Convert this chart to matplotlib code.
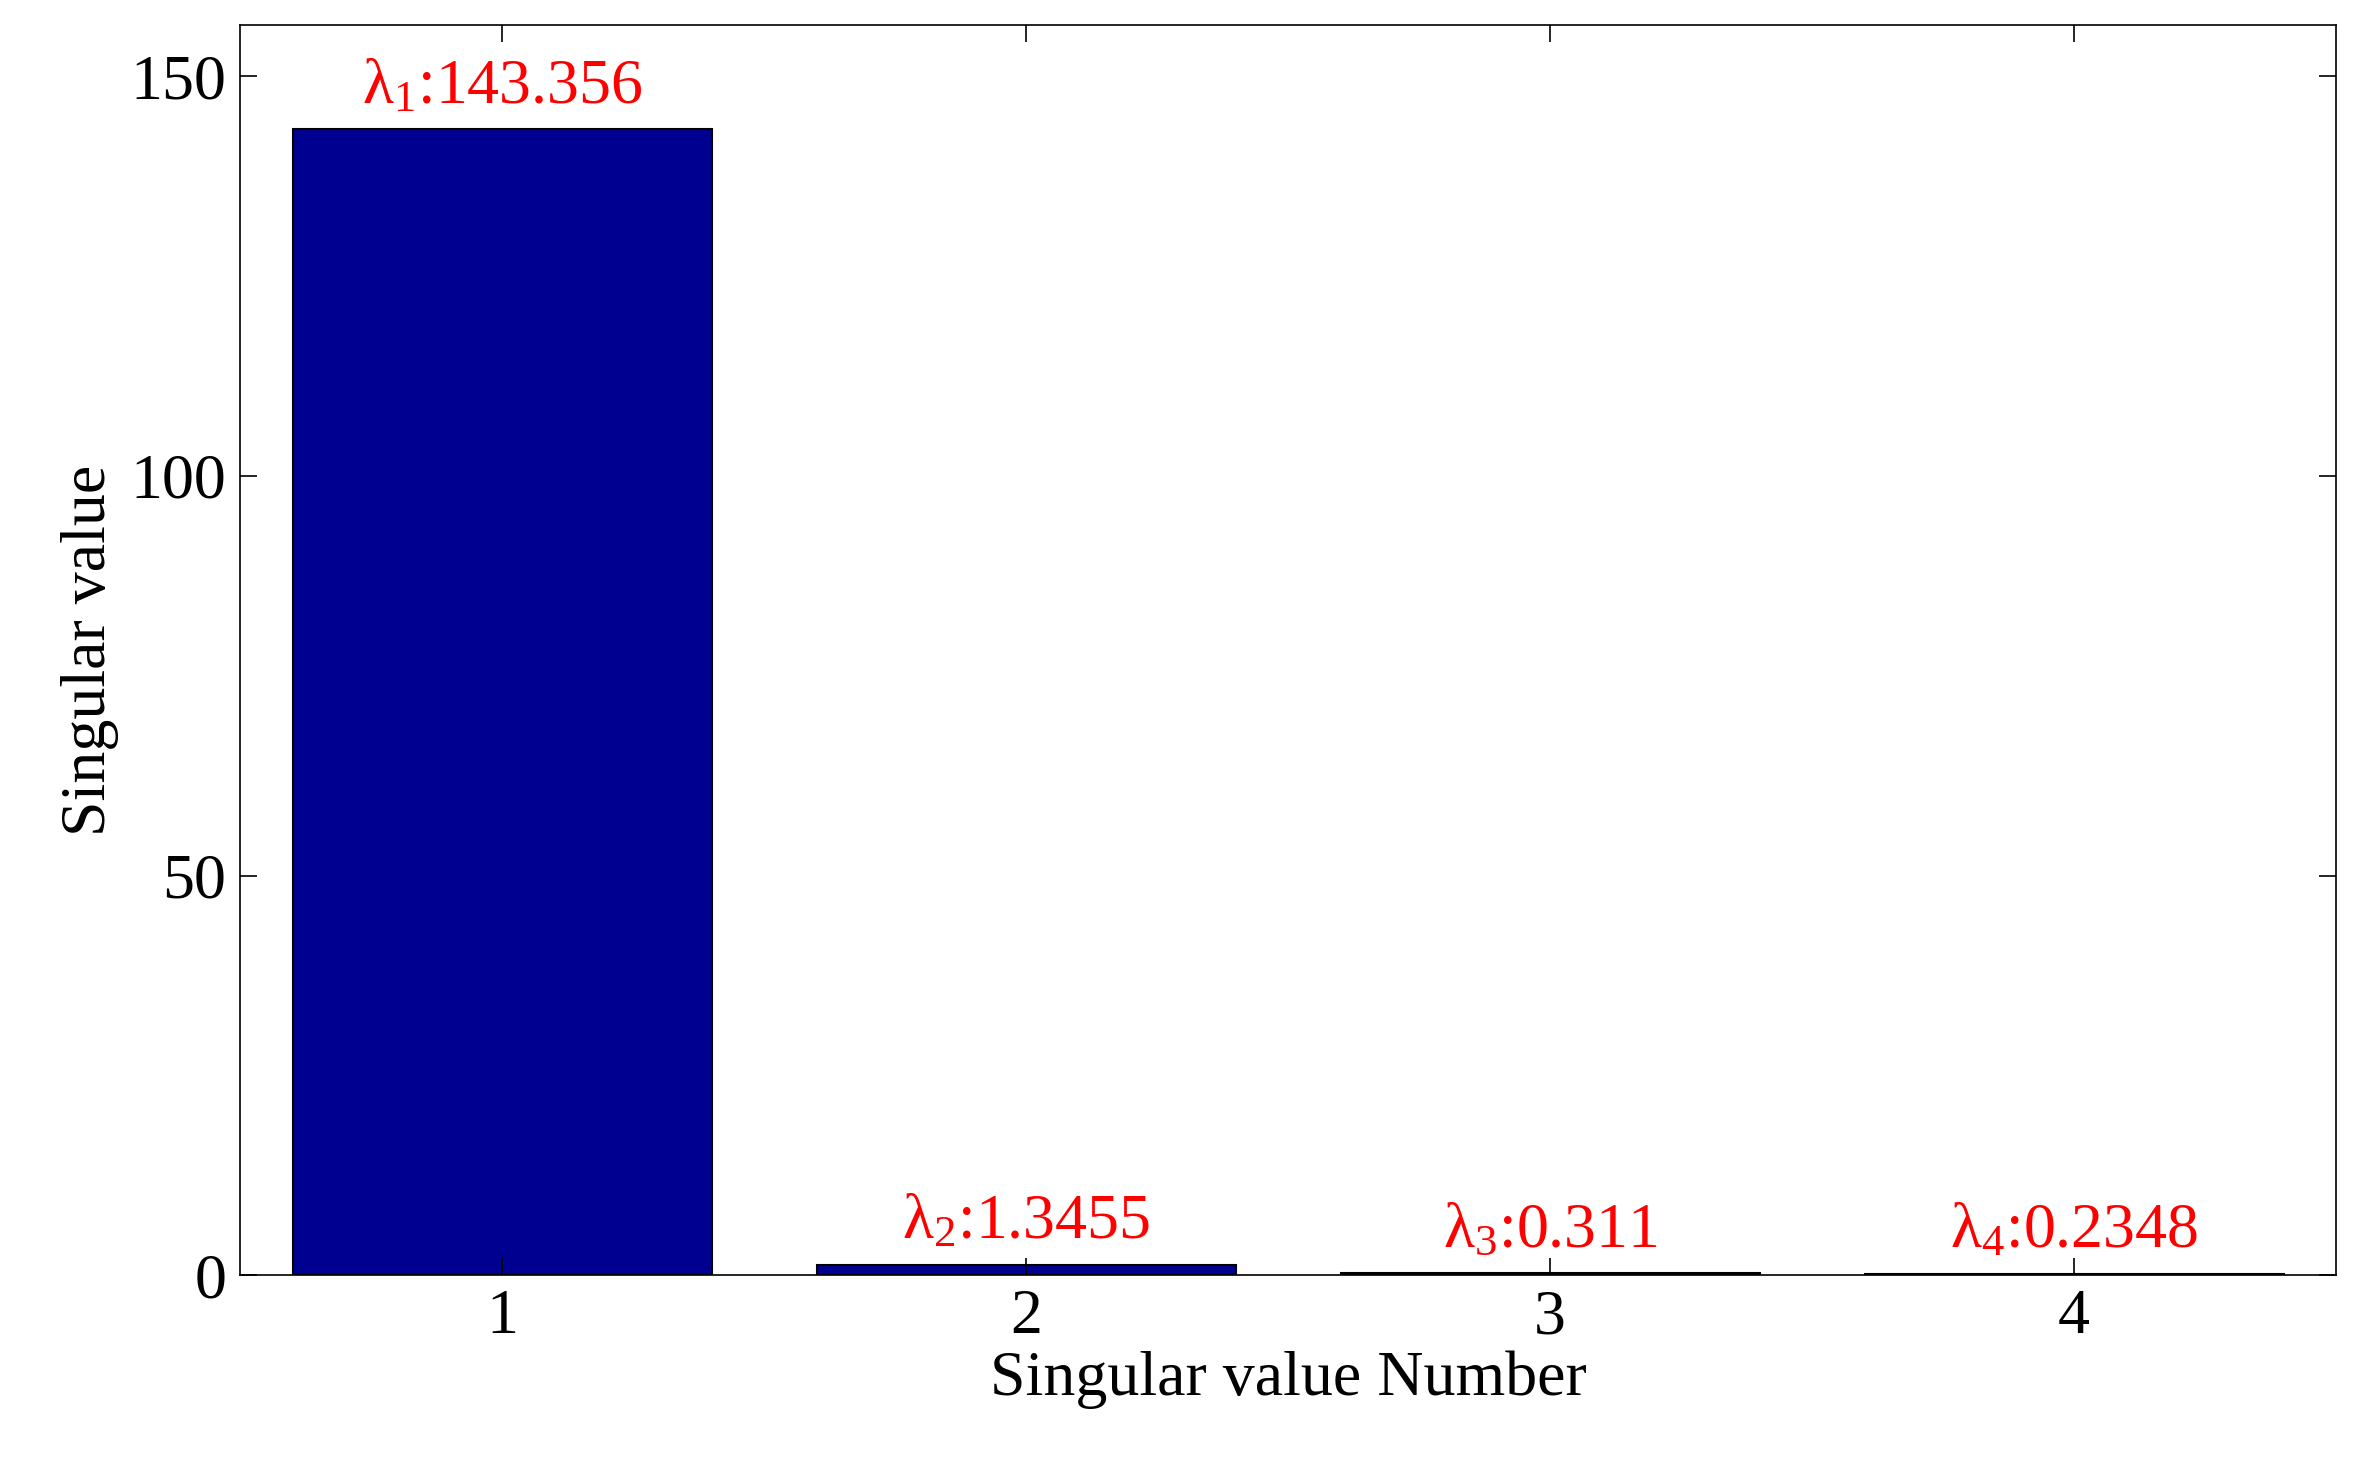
import matplotlib
matplotlib.use("Agg")
import matplotlib.pyplot as plt

numbers = [1, 2, 3, 4]
values = [143.356, 1.3455, 0.311, 0.2348]
labels = ["143.356", "1.3455", "0.311", "0.2348"]

plt.rcParams['font.family'] = ['Liberation Serif', 'DejaVu Serif']
plt.rcParams['mathtext.fontset'] = 'custom'
plt.rcParams['mathtext.rm'] = 'Liberation Serif'
plt.rcParams['mathtext.it'] = 'Liberation Serif'

fig = plt.figure(figsize=(23.55, 14.66), dpi=100)
ax = fig.add_axes([0.102, 0.130, 0.890, 0.853])
ax.bar(numbers, values, width=0.8, color='#000090', edgecolor='black', linewidth=1.5)
for n, v, l in zip(numbers, values, labels):
    ax.text(n, v + 1.5, r"λ$_{%d}$:%s" % (n, l), color='red', ha='center', va='bottom', fontsize=46)
ax.set_xlim(0.5, 4.5)
ax.set_ylim(0, 156.4)
ax.set_xticks(numbers)
ax.set_yticks([0, 50, 100, 150])
ax.tick_params(direction='in', top=True, right=True, labelsize=46, length=12, width=1.2, pad=10)
for s in ax.spines.values():
    s.set_linewidth(1.2)
ax.set_xlabel("Singular value Number", fontsize=46, labelpad=2)
ax.set_ylabel("Singular value", fontsize=46, labelpad=8)
fig.savefig("out.png", dpi=100)
